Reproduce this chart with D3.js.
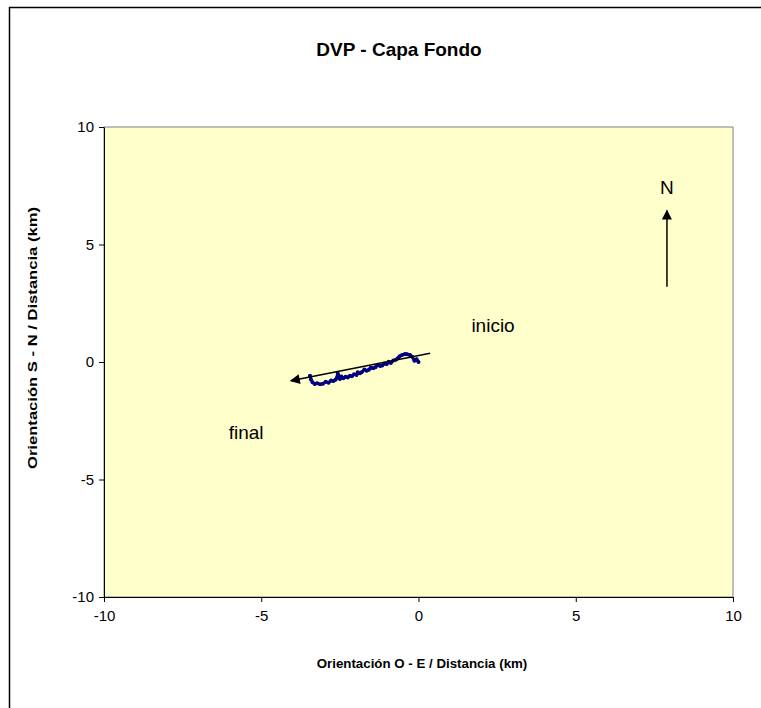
<!DOCTYPE html>
<html>
<head>
<meta charset="utf-8">
<script src="https://cdn.jsdelivr.net/npm/d3@7"></script>
<style>
  body { margin: 0; background: #fff; overflow: hidden; }
  svg { display: block; font-family: "Liberation Sans", Arial, sans-serif; }
</style>
</head>
<body>
<div id="chart"></div>
<script>
// track of the drifter (km), from start (inicio) to end (final)
const trackX = [0, -0.06, -0.13, -0.20, -0.27, -0.36, -0.43, -0.52, -0.60, -0.66, -0.72, -0.80, -0.88, -0.95, -1.01, -1.08, -1.15, -1.22, -1.30, -1.37, -1.44, -1.52, -1.58, -1.65, -1.72, -1.80, -1.86, -1.93, -1.97, -2.05, -2.12, -2.18, -2.25, -2.32, -2.39, -2.45, -2.50, -2.54, -2.57, -2.60, -2.64, -2.71, -2.78, -2.86, -2.95, -3.04, -3.13, -3.22, -3.30, -3.37, -3.42, -3.45];
const trackY = [0, 0.12, 0.05, 0.22, 0.30, 0.33, 0.34, 0.30, 0.24, 0.16, 0.10, 0.06, -0.04, 0.01, -0.09, -0.06, -0.15, -0.17, -0.12, -0.22, -0.27, -0.24, -0.33, -0.37, -0.32, -0.43, -0.48, -0.44, -0.55, -0.52, -0.61, -0.58, -0.66, -0.63, -0.69, -0.62, -0.72, -0.58, -0.47, -0.68, -0.76, -0.81, -0.79, -0.88, -0.84, -0.93, -0.95, -0.90, -0.94, -0.86, -0.74, -0.58];

// trend arrow and north arrow (start, end)
const trendArrow = [[0.37, 0.37], [-4.06, -0.80]];
const northArrow = [[7.9, 3.2], [7.9, 6.45]];

const labels = [
  { text: 'inicio', x: 2.37, y: 1.57 },
  { text: 'final', x: -5.48, y: -2.98 },
  { text: 'N', x: 7.9, y: 7.45 }
];

const xTicks = [-10, -5, 0, 5, 10];
const yTicks = [-10, -5, 0, 5, 10];

const width = 761, height = 708;
const margin = { top: 127, right: 28, bottom: 111, left: 104 };
const iw = width - margin.left - margin.right;
const ih = height - margin.top - margin.bottom;

const svg = d3.select('#chart').append('svg')
  .attr('width', width)
  .attr('height', height);

// outer chart frame: only its left and top edges fall inside the window
svg.append('path')
  .attr('d', `M9.5,${height}V7.5H${width}`)
  .attr('fill', 'none')
  .attr('stroke', '#000')
  .attr('stroke-width', 1.5);

svg.append('text')
  .attr('x', 399).attr('y', 56)
  .attr('text-anchor', 'middle')
  .attr('font-size', 19).attr('font-weight', 'bold')
  .text('DVP - Capa Fondo');

const g = svg.append('g').attr('transform', `translate(${margin.left},${margin.top})`);

const x = d3.scaleLinear().domain([-10, 10]).range([0, iw]);
const y = d3.scaleLinear().domain([-10, 10]).range([ih, 0]);

g.append('rect')
  .attr('width', iw).attr('height', ih)
  .attr('fill', '#FFFFCC')
  .attr('stroke', '#808080')
  .attr('stroke-width', 1);

const xAxis = g.append('g')
  .attr('transform', `translate(0,${ih})`)
  .call(d3.axisBottom(x).tickValues(xTicks).tickSize(5).tickSizeOuter(0).tickFormat(d => String(d)));
const yAxis = g.append('g')
  .call(d3.axisLeft(y).tickValues(yTicks).tickSize(5).tickSizeOuter(0).tickFormat(d => String(d)));

[xAxis, yAxis].forEach(a => {
  a.select('.domain').attr('stroke', '#000');
  a.selectAll('.tick line').attr('stroke', '#000');
  a.selectAll('.tick text')
    .attr('font-family', '"Liberation Sans", Arial, sans-serif')
    .attr('font-size', 15).attr('fill', '#000');
});
xAxis.selectAll('.tick text').attr('dy', '1.05em');
yAxis.selectAll('.tick text').attr('x', -10);

svg.append('text')
  .attr('x', 422).attr('y', 668)
  .attr('text-anchor', 'middle')
  .attr('font-size', 13.3).attr('font-weight', 'bold')
  .text('Orientación O - E / Distancia (km)');

svg.append('text')
  .attr('transform', 'translate(37,338) rotate(-90)')
  .attr('text-anchor', 'middle')
  .attr('font-size', 13.3).attr('font-weight', 'bold')
  .attr('textLength', 262)
  .attr('lengthAdjust', 'spacingAndGlyphs')
  .text('Orientación S - N / Distancia (km)');

const defs = svg.append('defs');
defs.append('marker')
  .attr('id', 'head')
  .attr('viewBox', '0 0 10 10')
  .attr('refX', 9).attr('refY', 5)
  .attr('markerWidth', 12).attr('markerHeight', 10)
  .attr('markerUnits', 'userSpaceOnUse')
  .attr('orient', 'auto')
  .append('path').attr('d', 'M0,0L10,5L0,10Z').attr('fill', '#000');

const track = trackX.map((d, i) => [d, trackY[i]]);
const line = d3.line().x(d => x(d[0])).y(d => y(d[1]));

g.append('path')
  .datum(track)
  .attr('d', line)
  .attr('fill', 'none')
  .attr('stroke', '#000080')
  .attr('stroke-width', 3)
  .attr('stroke-linejoin', 'round')
  .attr('stroke-linecap', 'round');

g.selectAll('circle.pt')
  .data(track)
  .join('circle')
  .attr('class', 'pt')
  .attr('cx', d => x(d[0])).attr('cy', d => y(d[1]))
  .attr('r', 2)
  .attr('fill', '#000080');

[trendArrow, northArrow].forEach(a => {
  g.append('line')
    .attr('x1', x(a[0][0])).attr('y1', y(a[0][1]))
    .attr('x2', x(a[1][0])).attr('y2', y(a[1][1]))
    .attr('stroke', '#000')
    .attr('stroke-width', 1.5)
    .attr('marker-end', 'url(#head)');
});

g.selectAll('text.lbl')
  .data(labels)
  .join('text')
  .attr('class', 'lbl')
  .attr('x', d => x(d.x)).attr('y', d => y(d.y))
  .attr('dy', '0.35em')
  .attr('text-anchor', 'middle')
  .attr('font-size', 19)
  .text(d => d.text);
</script>
</body>
</html>
